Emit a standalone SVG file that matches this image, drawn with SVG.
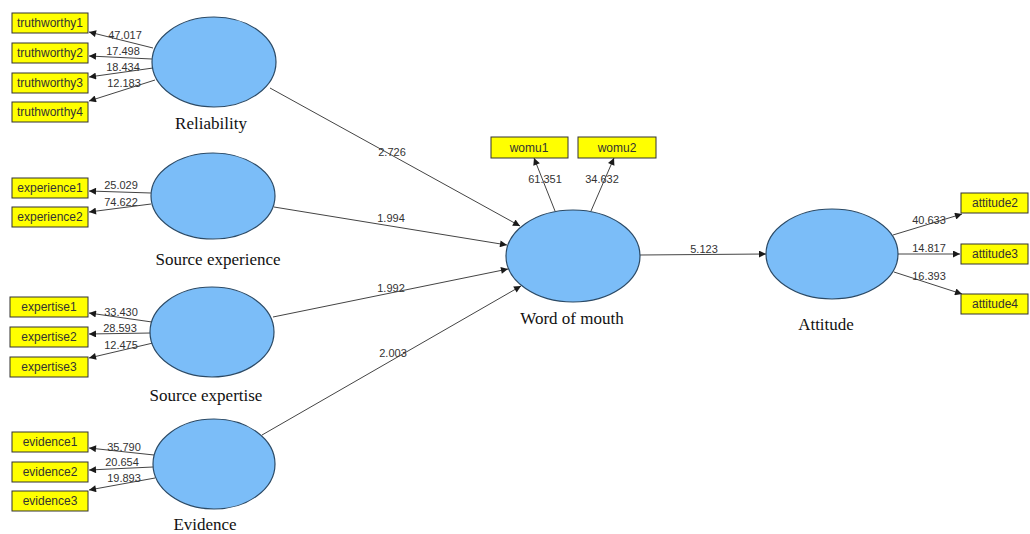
<svg xmlns="http://www.w3.org/2000/svg" width="1030" height="534" viewBox="0 0 1030 534">
<defs>
<marker id="ah" viewBox="0 0 10 10" refX="10" refY="5" markerWidth="9" markerHeight="7" orient="auto" markerUnits="userSpaceOnUse"><path d="M0,0 L10,5 L0,10 z" fill="#1a1a1a"/></marker>
<style>
.box{fill:#ffff00;stroke:#333;stroke-width:1}
.bt{font-family:"Liberation Sans",Arial,sans-serif;font-size:12px;fill:#333;text-anchor:middle}
.lv{fill:#7bbdf8;stroke:#2b4a66;stroke-width:1.2}
.lt{font-family:"Liberation Serif","Times New Roman",serif;font-size:17px;fill:#111;text-anchor:middle}
.c{stroke:#444;stroke-width:1;fill:none;marker-end:url(#ah)}
.n{font-family:"Liberation Sans",Arial,sans-serif;font-size:11px;fill:#333;text-anchor:middle}
</style>
</defs>
<rect width="1030" height="534" fill="#fff"/>
<g id="connectors">
<line class="c" x1="153" y1="48" x2="89" y2="32"/>
<line class="c" x1="152" y1="59" x2="89" y2="56"/>
<line class="c" x1="153" y1="68" x2="89" y2="77"/>
<line class="c" x1="155" y1="80" x2="89" y2="101"/>
<line class="c" x1="151" y1="193" x2="89" y2="191"/>
<line class="c" x1="151" y1="204" x2="89" y2="212"/>
<line class="c" x1="152" y1="322" x2="89" y2="313"/>
<line class="c" x1="151" y1="333" x2="89" y2="334"/>
<line class="c" x1="153" y1="343" x2="89" y2="358"/>
<line class="c" x1="154" y1="455" x2="89" y2="448"/>
<line class="c" x1="153" y1="467" x2="89" y2="470"/>
<line class="c" x1="155" y1="478" x2="89" y2="490"/>
<line class="c" x1="270" y1="88" x2="520" y2="226"/>
<line class="c" x1="274" y1="207" x2="507" y2="245"/>
<line class="c" x1="273" y1="317" x2="508" y2="269"/>
<line class="c" x1="262" y1="435" x2="521" y2="286"/>
<line class="c" x1="555" y1="211" x2="534" y2="158"/>
<line class="c" x1="591" y1="211" x2="614" y2="158"/>
<line class="c" x1="640" y1="255" x2="766" y2="254"/>
<line class="c" x1="893" y1="235" x2="962" y2="214"/>
<line class="c" x1="898" y1="254" x2="960" y2="254"/>
<line class="c" x1="894" y1="272" x2="962" y2="294"/>
<text class="n" x="125" y="39">47.017</text>
<text class="n" x="123" y="55">17.498</text>
<text class="n" x="123" y="71">18.434</text>
<text class="n" x="124" y="87">12.183</text>
<text class="n" x="121" y="189">25.029</text>
<text class="n" x="121" y="206">74.622</text>
<text class="n" x="121" y="316">33.430</text>
<text class="n" x="120" y="332">28.593</text>
<text class="n" x="121" y="349">12.475</text>
<text class="n" x="124" y="451">35.790</text>
<text class="n" x="122" y="466">20.654</text>
<text class="n" x="124" y="482">19.893</text>
<text class="n" x="392" y="156">2.726</text>
<text class="n" x="391" y="222">1.994</text>
<text class="n" x="391" y="292">1.992</text>
<text class="n" x="393" y="357">2.003</text>
<text class="n" x="545" y="183">61.351</text>
<text class="n" x="602" y="183">34.632</text>
<text class="n" x="704" y="253">5.123</text>
<text class="n" x="929" y="224">40.633</text>
<text class="n" x="929" y="252">14.817</text>
<text class="n" x="929" y="280">16.393</text>
</g>
<g id="reliability"><ellipse class="lv" cx="214" cy="62" rx="62" ry="45"/><text class="lt" x="211" y="129">Reliability</text></g>
<g id="source-experience"><ellipse class="lv" cx="213" cy="196" rx="62" ry="43"/><text class="lt" x="218" y="265">Source experience</text></g>
<g id="source-expertise"><ellipse class="lv" cx="212" cy="332" rx="62" ry="45"/><text class="lt" x="206" y="401">Source expertise</text></g>
<g id="evidence"><ellipse class="lv" cx="214" cy="464" rx="61" ry="45"/><text class="lt" x="205" y="530">Evidence</text></g>
<g id="word-of-mouth"><ellipse class="lv" cx="573" cy="256" rx="67" ry="46"/><text class="lt" x="572" y="324">Word of mouth</text></g>
<g id="attitude"><ellipse class="lv" cx="832" cy="254" rx="66" ry="45"/><text class="lt" x="826" y="330">Attitude</text></g>
<g id="truthworthy1"><rect class="box" x="12" y="13" width="76" height="20"/><text class="bt" x="50" y="27">truthworthy1</text></g>
<g id="truthworthy2"><rect class="box" x="12" y="43" width="76" height="20"/><text class="bt" x="50" y="57">truthworthy2</text></g>
<g id="truthworthy3"><rect class="box" x="12" y="73" width="76" height="20"/><text class="bt" x="50" y="87">truthworthy3</text></g>
<g id="truthworthy4"><rect class="box" x="12" y="102" width="76" height="20"/><text class="bt" x="50" y="116">truthworthy4</text></g>
<g id="experience1"><rect class="box" x="12" y="178" width="76" height="20"/><text class="bt" x="50" y="192">experience1</text></g>
<g id="experience2"><rect class="box" x="12" y="207" width="76" height="20"/><text class="bt" x="50" y="221">experience2</text></g>
<g id="expertise1"><rect class="box" x="10" y="297" width="78" height="20"/><text class="bt" x="49" y="311">expertise1</text></g>
<g id="expertise2"><rect class="box" x="10" y="327" width="78" height="20"/><text class="bt" x="49" y="341">expertise2</text></g>
<g id="expertise3"><rect class="box" x="10" y="357" width="78" height="20"/><text class="bt" x="49" y="371">expertise3</text></g>
<g id="evidence1"><rect class="box" x="12" y="432" width="76" height="20"/><text class="bt" x="50" y="446">evidence1</text></g>
<g id="evidence2"><rect class="box" x="12" y="462" width="76" height="20"/><text class="bt" x="50" y="476">evidence2</text></g>
<g id="evidence3"><rect class="box" x="12" y="491" width="76" height="20"/><text class="bt" x="50" y="505">evidence3</text></g>
<g id="womu1"><rect class="box" x="491" y="137" width="77" height="21"/><text class="bt" x="529" y="152">womu1</text></g>
<g id="womu2"><rect class="box" x="578" y="137" width="78" height="21"/><text class="bt" x="617" y="152">womu2</text></g>
<g id="attitude2"><rect class="box" x="961" y="193" width="67" height="20"/><text class="bt" x="995" y="207">attitude2</text></g>
<g id="attitude3"><rect class="box" x="961" y="244" width="67" height="20"/><text class="bt" x="995" y="258">attitude3</text></g>
<g id="attitude4"><rect class="box" x="961" y="294" width="67" height="20"/><text class="bt" x="995" y="308">attitude4</text></g>
</svg>
